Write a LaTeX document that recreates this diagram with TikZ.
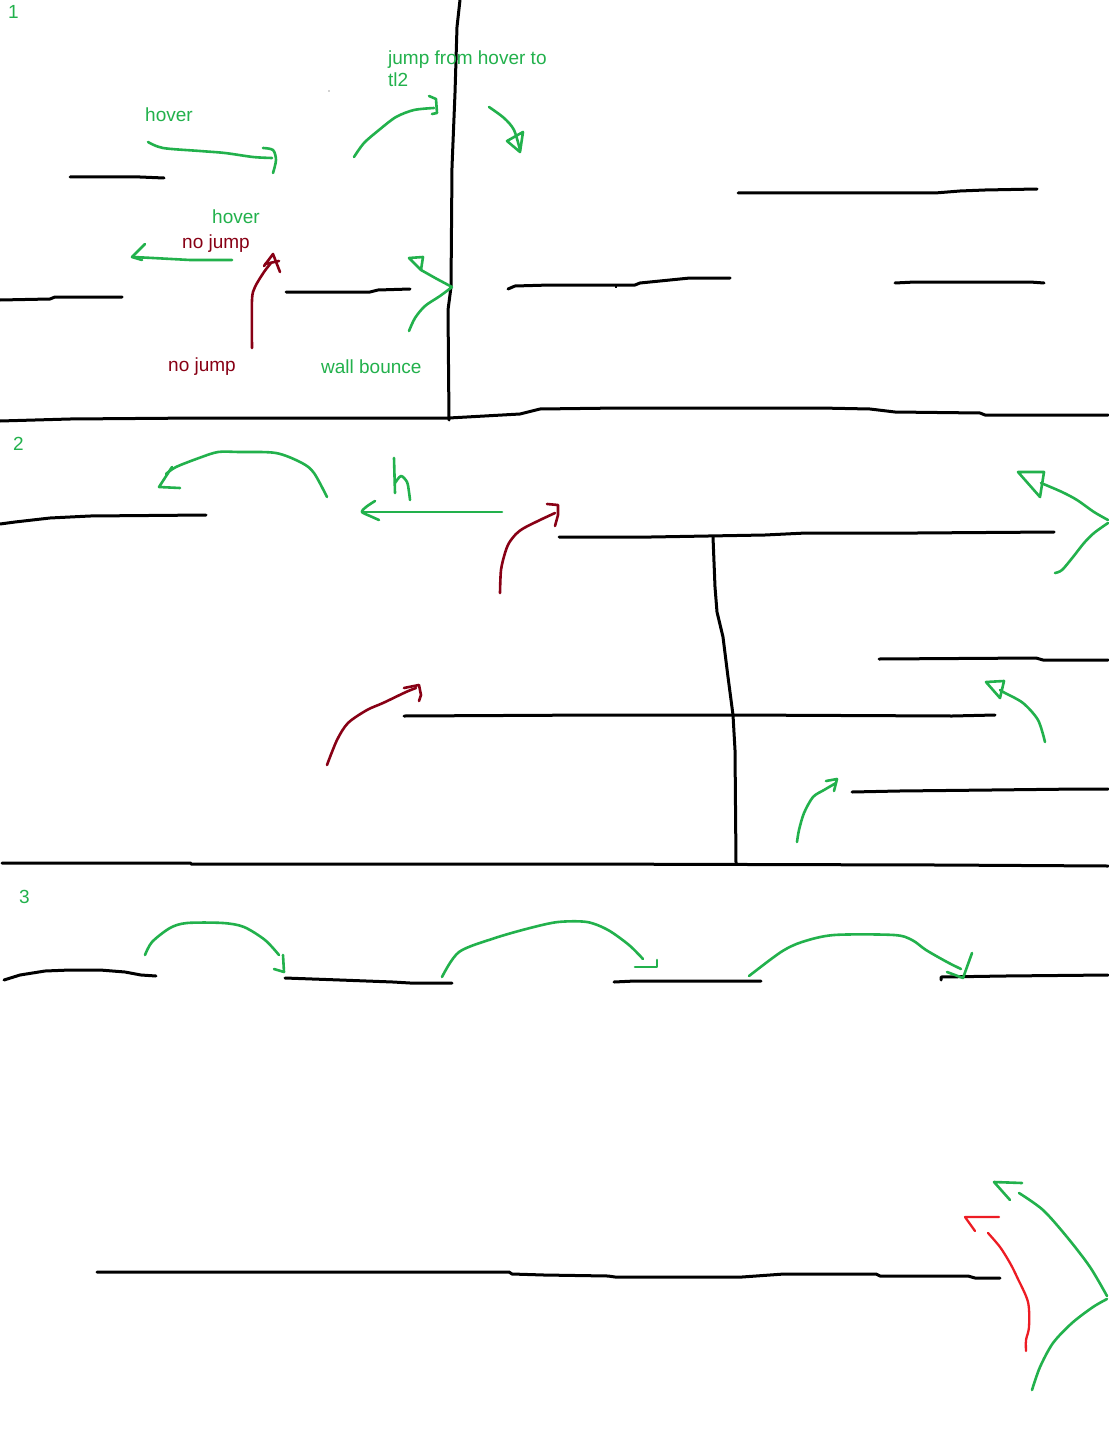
\documentclass[tikz,border=0pt]{standalone}
\usepackage{fontspec}
\setmainfont{Liberation Sans}
\definecolor{pgreen}{HTML}{22B14C}
\definecolor{pdred}{HTML}{880015}
\definecolor{pred}{HTML}{ED1C24}
\begin{document}
\begin{tikzpicture}[x=1pt,y=-1pt,
  ink/.style={line width=3pt, line cap=round, line join=round},
  gpen/.style={pgreen, line width=2.6pt, line cap=round, line join=round},
  dpen/.style={pdred, line width=2.6pt, line cap=round, line join=round},
  rpen/.style={pred, line width=2.3pt, line cap=round, line join=round},
  lbl/.style={font=\fontsize{19}{22}\selectfont, inner sep=0pt, anchor=base west},
  glbl/.style={lbl, text=pgreen},
  rlbl/.style={lbl, text=pdred}]
\fill[white] (0,0) rectangle (1108,1442);
\useasboundingbox (0,0) rectangle (1108,1442);

% ---------------- section 1 ----------------
\node[glbl] (n1) at (8,19) {1};
\draw[ink] (460,0) -- (457,27) -- (455,93) -- (452,167) -- (451,287) -- (448,310) -- (449,420);
\draw[ink] (0,421) -- (70,419) -- (200,418) -- (449,418) -- (520,414) -- (540,409) -- (620,408) -- (820,408) -- (870,409) -- (895,412) -- (980,413) -- (985,415) -- (1108,415);
\draw[ink] (70,177) -- (140,177) -- (164,178);
\draw[ink] (0,300) -- (50,299) -- (55,297) -- (122,297);
\draw[ink] (286,292) -- (370,292) -- (378,290) -- (410,289);
\draw[ink] (738,193) -- (935,193) -- (960,191) -- (985,190) -- (1037,189);
\draw[ink] (508,289) -- (515,286) -- (550,285) -- (635,285) -- (640,283) -- (690,278) -- (730,278);
\draw[line width=1.5pt] (616,285) -- (616,288);
\draw[ink] (895,283) -- (915,282) -- (1030,282) -- (1044,283);

\node[glbl] (thover1) at (145,122) {hover};
\draw[gpen] plot[smooth] coordinates {(148,142) (163,148) (200,151) (225,153) (253,157) (272,158)};
\draw[gpen] plot[smooth] coordinates {(263,148) (273,150) (276,160) (273,173)};

\node[glbl] (thover2) at (212,223) {hover};
\node[rlbl] (tnojump1) at (182,248) {no jump};
\draw[gpen] (232,260) -- (190,260) -- (153,258) -- (133,257);
\draw[gpen] (145,244) -- (132,257) -- (142,260);

\node[rlbl] (tnojump2) at (168,371) {no jump};
\draw[dpen] plot[smooth] coordinates {(252,348) (252,300) (255,287) (264,272) (271,263)};
\draw[dpen] (264,266) -- (273,254) -- (280,272);
\draw[dpen] (265,264) -- (279,261);

\node[glbl] (twall) at (321,373) {wall bounce};
\draw[gpen] plot[smooth] coordinates {(409,331) (415,318) (425,306) (440,296) (452,287)};
\draw[gpen] (452,287) -- (437,279) -- (421,270);
\draw[gpen] (409,258) -- (423,257) -- (421,270) -- cycle;

\node[glbl] (tjump) at (388,65) {jump from hover to};
\node[glbl] (ttl2) at (388,87) {tl2};
\draw[gpen] plot[smooth] coordinates {(354,157) (364,143) (379,130) (396,117) (414,110) (434,108)};
\draw[gpen] (429,96) -- (436,99) -- (437,113) -- (432,114);

\draw[gpen] plot[smooth] coordinates {(489,107) (504,118) (514,130) (520,150)};
\draw[gpen] (507,141) -- (523,132) -- (520,152) -- cycle;

\fill[gray!70] (329,91) circle (0.9);

% ---------------- section 2 ----------------
\node[glbl] (n2) at (13,450) {2};
\draw[ink] (0,524) -- (15,522) -- (50,518) -- (90,516) -- (206,515);
\draw[gpen] plot[smooth] coordinates {(327,497) (314,473) (302,463) (276,453) (239,452) (218,452) (199,458) (176,467) (166,474)};
\draw[gpen] (172,467) -- (159,487) -- (180,488);
\draw[gpen] (394,458) -- (395,493);
\draw[gpen] plot[smooth] coordinates {(395,483) (401,476) (407,482) (409,492) (410,500)};
\draw[gpen] (502,512) -- (362,512);
\draw[gpen] plot[smooth] coordinates {(375,501) (366,507) (362,512) (370,516) (379,520)};

\draw[dpen] plot[smooth] coordinates {(500,593) (501,570) (505,553) (509,543) (516,534) (524,528) (540,520) (555,513)};
\draw[dpen] (547,504) -- (558,505) -- (558,515) -- (555,526);
\draw[dpen] plot[smooth] coordinates {(327,765) (337,740) (348,723) (367,710) (383,703) (406,692) (416,688)};
\draw[dpen] (404,688) -- (419,685) -- (421,695) -- (419,701);

\draw[ink] (559,537) -- (651,537) -- (765,535) -- (806,533) -- (917,533) -- (1054,532);
\draw[ink] (713,537) -- (715,587) -- (717,612) -- (723,637) -- (728,677) -- (733,715) -- (735,750) -- (736,863);
\draw[ink] (404,716) -- (600,715) -- (733,715) -- (952,716) -- (995,715);
\draw[ink] (879,659) -- (1036,658) -- (1043,660) -- (1108,660);
\draw[ink] (852,792) -- (899,791) -- (991,790) -- (1080,789) -- (1108,789);
\draw[ink] (2,863) -- (191,863) -- (191,864) -- (564,864) -- (938,865) -- (1108,866);

\draw[gpen] plot[smooth] coordinates {(1108,520) (1094,512) (1077,500) (1062,492) (1041,483)};
\draw[gpen] (1018,472) -- (1044,472) -- (1040,497) -- cycle;
\draw[gpen] plot[smooth] coordinates {(1108,523) (1094,533) (1084,543) (1073,557) (1062,570) (1055,573)};
\draw[gpen] plot[smooth] coordinates {(1045,742) (1038,720) (1023,703) (1005,693) (1000,690)};
\draw[gpen] (986,682) -- (1004,681) -- (1000,698) -- cycle;
\draw[gpen] plot[smooth] coordinates {(797,842) (799,830) (804,813) (813,797) (824,790) (836,783)};
\draw[gpen] (826,781) -- (837,779) -- (834,791);

% ---------------- section 3 ----------------
\node[glbl] (n3) at (19,903) {3};
\draw[ink] (4,980) -- (20,975) -- (45,971) -- (70,970) -- (100,970) -- (125,972) -- (141,975) -- (156,976);
\draw[ink] (285,978) -- (340,980) -- (393,982) -- (410,983) -- (452,983);
\draw[ink] (614,982) -- (635,981) -- (761,981);
\draw[ink] (941,980) -- (941,977) -- (1005,976) -- (1108,975);
\draw[gpen] plot[smooth] coordinates {(145,955) (152,942) (170,928) (187,923) (223,923) (244,927) (265,940) (279,955)};
\draw[gpen] (283,955) -- (284,972) -- (274,969);
\draw[gpen] plot[smooth] coordinates {(442,977) (459,952) (495,938) (530,928) (558,922) (587,922) (608,930) (629,945) (643,959)};
\draw[gpen] (657,960) -- (657,967) -- (635,967);
\draw[gpen] plot[smooth] coordinates {(749,976) (781,952) (802,942) (834,935) (894,935) (912,940) (926,950) (947,962) (961,969)};
\draw[gpen] (972,953) -- (963,978) -- (947,972);

% ---------------- bottom ----------------
\draw[ink] (97,1272) -- (509,1272) -- (512,1274) -- (544,1275) -- (608,1276) -- (615,1277) -- (742,1277) -- (784,1274) -- (876,1274) -- (880,1276) -- (968,1276) -- (975,1278) -- (1000,1278);
\draw[rpen] (999,1217) -- (965,1217) -- (975,1231);
\draw[rpen] plot[smooth] coordinates {(988,1233) (1000,1247) (1010,1263) (1017,1277) (1028,1302) (1029,1327) (1026,1340) (1026,1351)};
\draw[gpen] (1022,1183) -- (994,1182) -- (1010,1200);
\draw[gpen] plot[smooth] coordinates {(1019,1193) (1043,1210) (1067,1237) (1090,1267) (1107,1296)};
\draw[gpen] plot[smooth] coordinates {(1107,1299) (1093,1307) (1072,1323) (1053,1343) (1040,1367) (1032,1390)};
\end{tikzpicture}
\end{document}
